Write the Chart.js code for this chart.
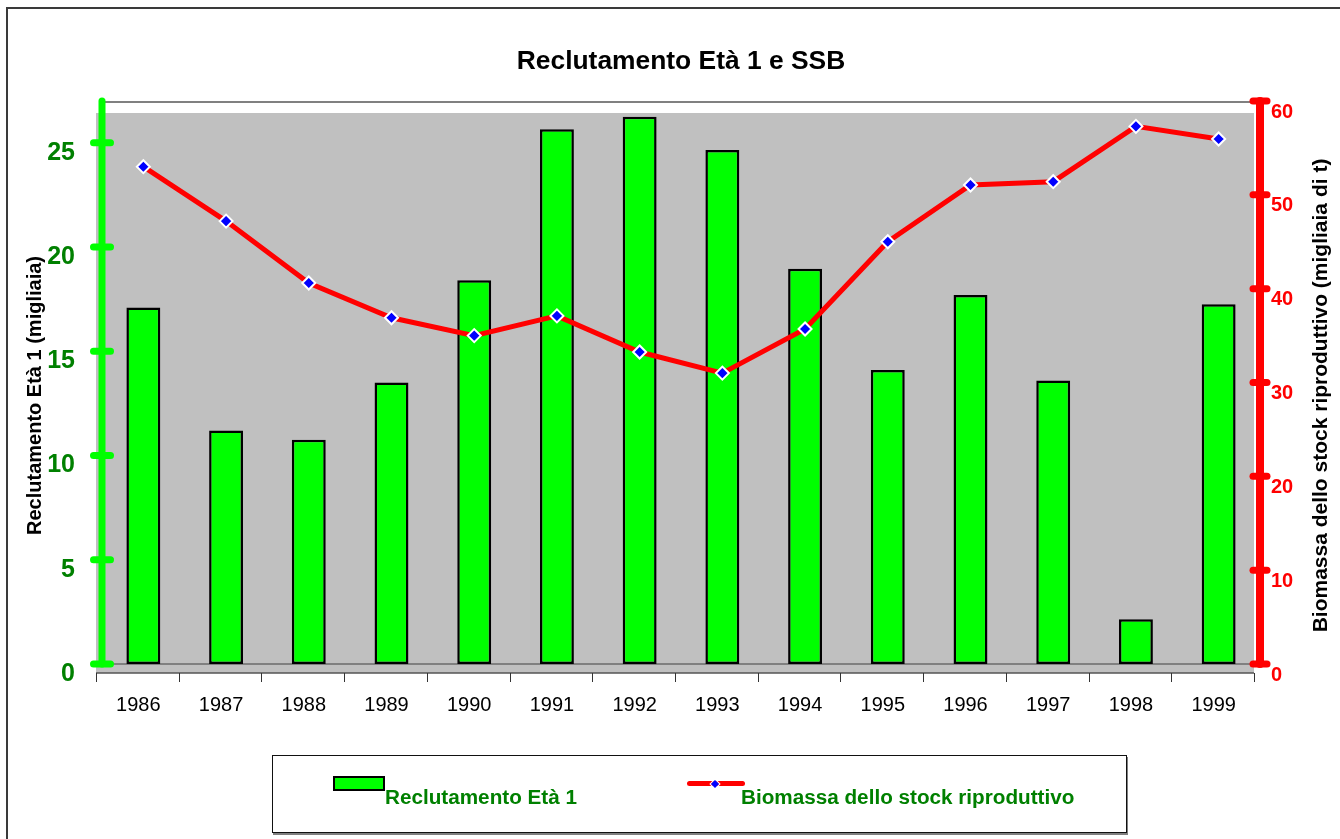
<!DOCTYPE html>
<html>
<head>
<meta charset="utf-8">
<script src="https://cdn.jsdelivr.net/npm/chart.js@4.4.1/dist/chart.umd.min.js"></script>
<style>
  html, body { margin: 0; padding: 0; background: #fff; width: 1340px; height: 839px; overflow: hidden; }
  #frame { position: absolute; left: 6px; top: 7px; width: 1400px; height: 900px;
           border-left: 2px solid #3a3a3a; border-top: 2px solid #3a3a3a; }
  #chart { position: absolute; left: 0; top: 0; }
  #legend { position: absolute; left: 272px; top: 755px; width: 853px; height: 76px;
            border: 1.5px solid #111; box-shadow: 1px 2px 0 #7f7f7f; background: #fff;
            font-family: "Liberation Sans", Arial, sans-serif; font-weight: bold;
            font-size: 20.7px; line-height: 20px; color: #008000; }
  #legend .txt { position: absolute; white-space: nowrap; }
  #legend .bar { position: absolute; left: 60px; top: 20px; width: 48px; height: 11px;
                 background: #00ff00; border: 2px solid #000; }
  #legend .ln { position: absolute; left: 414px; top: 25px; width: 58px; height: 5px;
                background: #ff0000; border-radius: 3px; }
  #legend .mk { position: absolute; left: 439px; top: 24.5px; width: 6px; height: 6px;
                background: #0000ff; outline: 1.5px solid #fff; transform: rotate(45deg); }
</style>
</head>
<body>
<div id="frame"></div>
<canvas id="chart" width="1340" height="839"></canvas>
<div id="legend"></div>
<script>
// Years on the category axis
const years = ['1986','1987','1988','1989','1990','1991','1992','1993','1994','1995','1996','1997','1998','1999'];
// Age-1 recruitment (thousands) – left axis
const recruitment = [17.1, 11.2, 10.75, 13.5, 18.4, 25.65, 26.25, 24.65, 18.95, 14.1, 17.7, 13.6, 2.15, 17.25];
// Spawning stock biomass (thousand t) – right axis
const ssb = [53.0, 47.2, 40.6, 36.9, 35.0, 37.1, 33.25, 31.0, 35.7, 45.0, 51.05, 51.4, 57.3, 55.95];

const chartTitle = 'Reclutamento Età 1 e SSB';
const recruitName = 'Reclutamento Età 1';
const ssbName = 'Biomassa dello stock riproduttivo';
const leftTitle = 'Reclutamento Età 1 (migliaia)';
const rightTitle = 'Biomassa dello stock riproduttivo (migliaia di t)';

const FONT = '"Liberation Sans", Arial, sans-serif';
Chart.defaults.font.family = FONT;

function seg(ctx, x1, y1, x2, y2) {
  ctx.beginPath(); ctx.moveTo(x1, y1); ctx.lineTo(x2, y2); ctx.stroke();
}

function vText(ctx, text, size, cx, cy) {
  ctx.save();
  ctx.fillStyle = '#000';
  ctx.font = 'bold ' + size + 'px ' + FONT;
  ctx.textAlign = 'center';
  ctx.textBaseline = 'middle';
  ctx.translate(cx, cy); ctx.rotate(-Math.PI / 2);
  ctx.fillText(text, 0, 0);
  ctx.restore();
}

// Grey plot backdrop, floor edge, category tick marks, thick axes and axis titles
const backdrop = {
  id: 'backdrop',
  beforeDatasetsDraw(chart) {
    const { ctx, chartArea: a, scales: { x, y } } = chart;
    const y0 = y.getPixelForValue(0);
    const shift = 6;
    ctx.save();
    ctx.fillStyle = '#c0c0c0';
    ctx.fillRect(a.left - shift, a.top + 12, a.width, y0 - a.top - 12 + 9);
    ctx.strokeStyle = '#808080';
    ctx.lineWidth = 2;
    seg(ctx, a.left, a.top + 1, a.right, a.top + 1);
    seg(ctx, a.left - shift, y0, a.right - shift, y0);
    ctx.strokeStyle = '#555';
    ctx.lineWidth = 1.5;
    seg(ctx, a.left - shift, y0 + 9, a.right - shift, y0 + 9);
    const step = x.getPixelForValue(1) - x.getPixelForValue(0);
    ctx.strokeStyle = '#333';
    ctx.lineWidth = 1;
    for (let i = 0; i <= years.length; i++) {
      const px = Math.round(x.getPixelForValue(i) - step / 2 - shift) + 0.5;
      seg(ctx, px, y0 + 9, px, y0 + 18);
    }
    ctx.restore();
  },
  afterDatasetsDraw(chart) {
    const { ctx, chartArea: a, scales: { y, y1 } } = chart;
    ctx.save();
    ctx.lineCap = 'round';
    // left axis
    ctx.strokeStyle = '#00ff00';
    ctx.lineWidth = 7;
    seg(ctx, a.left, a.top, a.left, y.getPixelForValue(0));
    y.ticks.forEach(t => {
      const py = y.getPixelForValue(t.value);
      seg(ctx, a.left - 8.5, py, a.left + 8.5, py);
    });
    // right axis
    ctx.strokeStyle = '#ff0000';
    ctx.lineWidth = 8;
    seg(ctx, a.right, y1.getPixelForValue(60), a.right, y1.getPixelForValue(0));
    ctx.lineWidth = 7;
    y1.ticks.forEach(t => {
      const py = y1.getPixelForValue(t.value);
      seg(ctx, a.right - 7, py, a.right + 7, py);
    });
    ctx.restore();
  },
  afterDraw(chart) {
    const { ctx, chartArea: a } = chart;
    const cy = (a.top + a.bottom) / 2 + 13;
    vText(ctx, leftTitle, 20, 35, cy);
    vText(ctx, rightTitle, 21, 1321, cy);
  }
};

new Chart(document.getElementById('chart'), {
  data: {
    labels: years,
    datasets: [
      {
        type: 'line', label: ssbName, data: ssb, yAxisID: 'y1', order: 1,
        borderColor: '#ff0000', borderWidth: 5, tension: 0,
        pointStyle: 'rectRot', pointRadius: 6.5, pointBackgroundColor: '#0000ff',
        pointBorderColor: '#ffffff', pointBorderWidth: 2
      },
      {
        type: 'bar', label: recruitName, data: recruitment, yAxisID: 'y', order: 2,
        backgroundColor: '#00ff00', borderColor: '#000000', borderWidth: 2.5,
        borderSkipped: false, categoryPercentage: 1, barPercentage: 0.41
      }
    ]
  },
  options: {
    responsive: false, animation: false, devicePixelRatio: 1,
    layout: { padding: 0 },
    plugins: {
      legend: { display: false },
      tooltip: { enabled: false },
      title: {
        display: true, fullSize: false, text: chartTitle, color: '#000',
        font: { size: 26.4, weight: 'bold' }, padding: { top: 46.16, bottom: 23.16 }
      }
    },
    scales: {
      x: {
        type: 'category', offset: true,
        grid: { display: false, drawTicks: false }, border: { display: false },
        ticks: { color: '#000', font: { size: 20 }, padding: 29, labelOffset: -5, maxRotation: 0, autoSkip: false },
        afterFit(s) { s.height = 175; }
      },
      y: {
        position: 'left', min: 0, max: 27,
        grid: { display: false, drawTicks: false }, border: { display: false },
        ticks: { stepSize: 5, includeBounds: false, color: '#008000', font: { size: 25, weight: 'bold' }, padding: 27, labelOffset: 10 },
        afterFit(s) { s.width = 102; }
      },
      y1: {
        position: 'right', min: 0, max: 60,
        grid: { display: false, drawTicks: false }, border: { display: false },
        ticks: { stepSize: 10, includeBounds: false, color: '#ff0000', font: { size: 20, weight: 'bold' }, padding: 11, labelOffset: 11 },
        afterFit(s) { s.width = 80; }
      }
    }
  },
  plugins: [backdrop]
});

// Legend box under the chart
const legend = document.getElementById('legend');
legend.innerHTML =
  '<div class="bar"></div>' +
  '<div class="txt" style="left:112px;top:31px">' + recruitName + '</div>' +
  '<div class="ln"></div><div class="mk"></div>' +
  '<div class="txt" style="left:468px;top:31px">' + ssbName + '</div>';
</script>
</body>
</html>
